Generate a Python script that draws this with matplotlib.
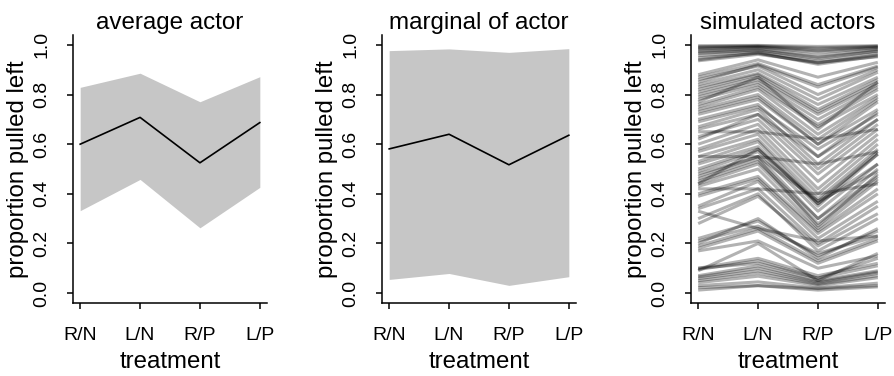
import matplotlib
matplotlib.use("Agg")
import matplotlib.pyplot as plt

plt.rcParams['font.family'] = ['Liberation Sans', 'DejaVu Sans']

treatments = ["R/N", "L/N", "R/P", "L/P"]

# average actor
avg_mean = [0.600, 0.708, 0.525, 0.687]
avg_lo = [0.332, 0.458, 0.263, 0.426]
avg_hi = [0.829, 0.886, 0.771, 0.872]

# marginal of actor
marg_mean = [0.581, 0.640, 0.517, 0.636]
marg_lo = [0.055, 0.079, 0.031, 0.066]
marg_hi = [0.977, 0.984, 0.970, 0.985]

# simulated actors (R/N, L/N, R/P, L/P)
sim_actors = [
    [0.997, 0.998, 0.994, 0.997], [0.990, 0.994, 0.982, 0.993],
    [0.982, 0.990, 0.970, 0.987], [0.975, 0.985, 0.958, 0.982],
    [0.966, 0.978, 0.945, 0.975], [0.957, 0.972, 0.935, 0.966],
    [0.948, 0.966, 0.927, 0.960], [0.940, 0.968, 0.922, 0.955],
    [0.993, 0.996, 0.988, 0.995], [0.970, 0.980, 0.950, 0.976],
    [0.936, 0.962, 0.930, 0.952], [0.985, 0.992, 0.976, 0.990],
    [0.880, 0.940, 0.870, 0.930], [0.870, 0.925, 0.840, 0.915],
    [0.860, 0.915, 0.800, 0.900], [0.850, 0.920, 0.830, 0.910],
    [0.840, 0.900, 0.780, 0.890], [0.830, 0.885, 0.760, 0.870],
    [0.820, 0.880, 0.740, 0.860], [0.810, 0.870, 0.730, 0.850],
    [0.800, 0.860, 0.720, 0.840], [0.790, 0.850, 0.700, 0.830],
    [0.780, 0.840, 0.680, 0.820], [0.760, 0.830, 0.670, 0.800],
    [0.750, 0.820, 0.640, 0.790], [0.740, 0.800, 0.620, 0.780],
    [0.730, 0.790, 0.600, 0.770], [0.720, 0.780, 0.600, 0.740],
    [0.700, 0.760, 0.550, 0.730], [0.690, 0.750, 0.580, 0.720],
    [0.670, 0.740, 0.520, 0.700], [0.660, 0.720, 0.500, 0.680],
    [0.650, 0.650, 0.620, 0.660], [0.630, 0.700, 0.480, 0.660],
    [0.600, 0.680, 0.450, 0.640], [0.580, 0.660, 0.420, 0.620],
    [0.570, 0.640, 0.400, 0.600], [0.550, 0.620, 0.380, 0.580],
    [0.550, 0.550, 0.520, 0.570], [0.530, 0.610, 0.360, 0.570],
    [0.520, 0.590, 0.350, 0.560], [0.500, 0.580, 0.360, 0.520],
    [0.490, 0.570, 0.330, 0.520], [0.480, 0.550, 0.300, 0.500],
    [0.470, 0.550, 0.370, 0.490], [0.460, 0.540, 0.270, 0.480],
    [0.450, 0.530, 0.300, 0.470], [0.440, 0.520, 0.280, 0.460],
    [0.430, 0.500, 0.260, 0.450], [0.420, 0.420, 0.400, 0.440],
    [0.400, 0.470, 0.250, 0.420], [0.390, 0.460, 0.240, 0.400],
    [0.350, 0.450, 0.220, 0.370], [0.340, 0.420, 0.200, 0.350],
    [0.330, 0.260, 0.210, 0.230], [0.300, 0.400, 0.170, 0.300],
    [0.220, 0.290, 0.150, 0.250], [0.210, 0.270, 0.160, 0.230],
    [0.200, 0.300, 0.140, 0.260], [0.190, 0.260, 0.130, 0.220],
    [0.180, 0.250, 0.120, 0.210], [0.170, 0.210, 0.100, 0.150],
    [0.100, 0.140, 0.070, 0.120], [0.095, 0.130, 0.060, 0.110],
    [0.090, 0.200, 0.050, 0.160], [0.070, 0.110, 0.050, 0.090],
    [0.065, 0.100, 0.045, 0.085], [0.058, 0.090, 0.040, 0.080],
    [0.050, 0.080, 0.035, 0.070], [0.042, 0.068, 0.030, 0.062],
    [0.030, 0.045, 0.020, 0.040], [0.022, 0.030, 0.018, 0.030],
    [0.012, 0.030, 0.012, 0.025], [0.100, 0.120, 0.060, 0.140],
    [0.620, 0.720, 0.550, 0.700], [0.770, 0.870, 0.660, 0.850],
    [0.440, 0.580, 0.370, 0.560], [0.280, 0.390, 0.190, 0.320],
]

x = [1, 2, 3, 4]

fig = plt.figure(figsize=(8.94, 3.76), dpi=100)
lefts = [73 / 894, 382 / 894, 691 / 894]
axes = [fig.add_axes([l, 73 / 376, 194 / 894, 268 / 376]) for l in lefts]


def style(ax, title):
    ax.set_xlim(0.88, 4.12)
    ax.set_ylim(-0.04, 1.04)
    for s in ['top', 'right']:
        ax.spines[s].set_visible(False)
    for s in ['left', 'bottom']:
        ax.spines[s].set_linewidth(1.1)
    ax.set_xticks(x)
    ax.set_xticklabels(treatments)
    ax.set_yticks([0, 0.2, 0.4, 0.6, 0.8, 1.0])
    ax.set_yticklabels(["0.0", "0.2", "0.4", "0.6", "0.8", "1.0"])
    ax.tick_params(width=1.1, length=4.5, labelsize=14)
    ax.tick_params(axis='x', pad=13)
    ax.tick_params(axis='y', pad=12)
    for lab in ax.get_yticklabels():
        lab.set_rotation(90)
        lab.set_va('center')
    ax.set_xlabel("treatment", fontsize=17.3, labelpad=5)
    ax.set_ylabel("proportion pulled left", fontsize=17.3, labelpad=3)
    ax.set_title(title, fontsize=17.4, pad=4)


band = '#c6c6c6'
ax = axes[0]
ax.fill_between(x, avg_lo, avg_hi, color=band, linewidth=0)
ax.plot(x, avg_mean, color='black', lw=1.2)
style(ax, "average actor")

ax = axes[1]
ax.fill_between(x, marg_lo, marg_hi, color=band, linewidth=0)
ax.plot(x, marg_mean, color='black', lw=1.2)
style(ax, "marginal of actor")

ax = axes[2]
for row in sim_actors:
    ax.plot(x, row, color='black', alpha=0.3, lw=2.2, solid_capstyle='butt')
style(ax, "simulated actors")

fig.savefig("out.png", dpi=100)
